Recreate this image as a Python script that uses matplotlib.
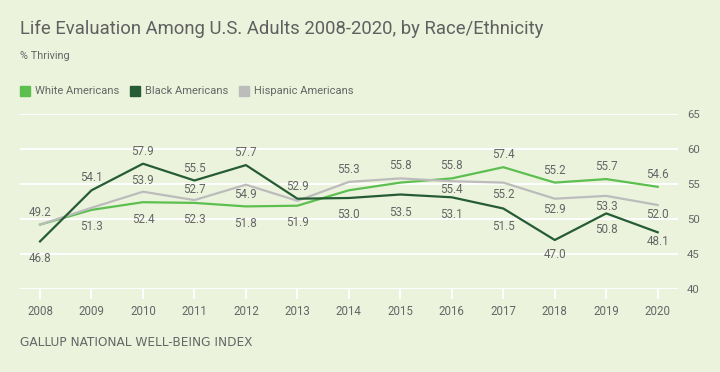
import matplotlib
matplotlib.use('Agg')
import matplotlib.pyplot as plt
from matplotlib.patches import Rectangle

plt.rcParams['font.family'] = ['Roboto', 'DejaVu Sans']

years = [2008, 2009, 2010, 2011, 2012, 2013, 2014, 2015, 2016, 2017, 2018, 2019, 2020]
white = [49.2, 51.3, 52.4, 52.3, 51.8, 51.9, 54.1, 55.2, 55.8, 57.4, 55.2, 55.7, 54.6]
black = [46.8, 54.1, 57.9, 55.5, 57.7, 52.9, 53.0, 53.5, 53.1, 51.5, 47.0, 50.8, 48.1]
hispanic = [49.2, 51.6, 53.9, 52.7, 54.9, 52.6, 55.3, 55.8, 55.4, 55.2, 52.9, 53.3, 52.0]
names = ['White Americans', 'Black Americans', 'Hispanic Americans']
yticks = [40, 45, 50, 55, 60, 65]

bg = '#ebf3dd'
c_white = '#5cbf4f'
c_black = '#265c34'
c_hisp = '#bcbcbc'
txt = '#666666'

# which labels are shown, and vertical offset in px (neg = above)
label_spec = {
    'white': {2009: 17, 2010: 17, 2011: 17, 2012: 17, 2013: 17, 2016: -13, 2017: -13,
              2018: -12.5, 2019: -12.5, 2020: -12.5},
    'black': {2008: 17, 2009: -13, 2010: -12, 2011: -12.5, 2012: -12.5, 2013: -12.5,
              2014: 17, 2015: 17.5, 2016: 17, 2017: 18, 2018: 14, 2019: 16.5, 2020: 9},
    'hisp': {2008: -12.5, 2010: -11, 2011: -11, 2012: 9.5, 2014: -12.5, 2015: -13,
             2016: 8.5, 2017: 11.5, 2018: 10.5, 2019: 11, 2020: 9.5},
}

W, H = 720, 372
fig = plt.figure(figsize=(7.2, 3.72), dpi=100, facecolor=bg)
ax = fig.add_axes([20 / W, 1 - 289 / H, 658 / W, 175 / H])
ax.set_facecolor(bg)

ax.set_xlim(2007.611, 2020.394)
ax.set_ylim(40, 65)
ax.set_yticks(yticks)
ax.set_xticks(years)
for s in ax.spines.values():
    s.set_visible(False)
for v in yticks:
    ax.axhline(v, color='white', lw=1.4, zorder=1)

ax.yaxis.tick_right()
ax.tick_params(axis='y', length=0, pad=6.5, labelsize=8.2, labelcolor=txt)
ax.tick_params(axis='x', length=7, width=1.4, color='white', pad=4.5, labelsize=8.3, labelcolor=txt)

ax.plot(years, white, color=c_white, lw=1.6, zorder=3)
ax.plot(years, hispanic, color=c_hisp, lw=1.6, zorder=4)
ax.plot(years, black, color=c_black, lw=1.6, zorder=5)

for key, vals in [('white', white), ('black', black), ('hisp', hispanic)]:
    for yr, dy in label_spec[key].items():
        v = vals[years.index(yr)]
        ax.annotate(f'{v:.1f}', (yr, v), xytext=(0, -dy * 0.72), textcoords='offset points',
                    ha='center', va='center', fontsize=8.4, color=txt, zorder=6)

fig.text(20 / W, 1 - 34.3 / H, 'Life Evaluation Among U.S. Adults 2008-2020, by Race/Ethnicity',
         fontsize=13.3, color='#606060', va='baseline')
fig.text(20 / W, 1 - 59.3 / H, '% Thriving', fontsize=7.8, color=txt, va='baseline')

leg_x = [20, 130, 239]
for x0, name, col in zip(leg_x, names, [c_white, c_black, c_hisp]):
    fig.patches.append(Rectangle((x0 / W, 1 - 95.7 / H), 10 / W, 10 / H, color=col,
                                 transform=fig.transFigure))
    fig.text((x0 + 15) / W, 1 - 94 / H, name, fontsize=8, color=txt, va='baseline')

fig.text(20 / W, 1 - 346 / H, 'GALLUP NATIONAL WELL-BEING INDEX', fontsize=8.7,
         color=txt, va='baseline', family='DejaVu Sans')

fig.savefig('out.png', dpi=100, facecolor=bg)
